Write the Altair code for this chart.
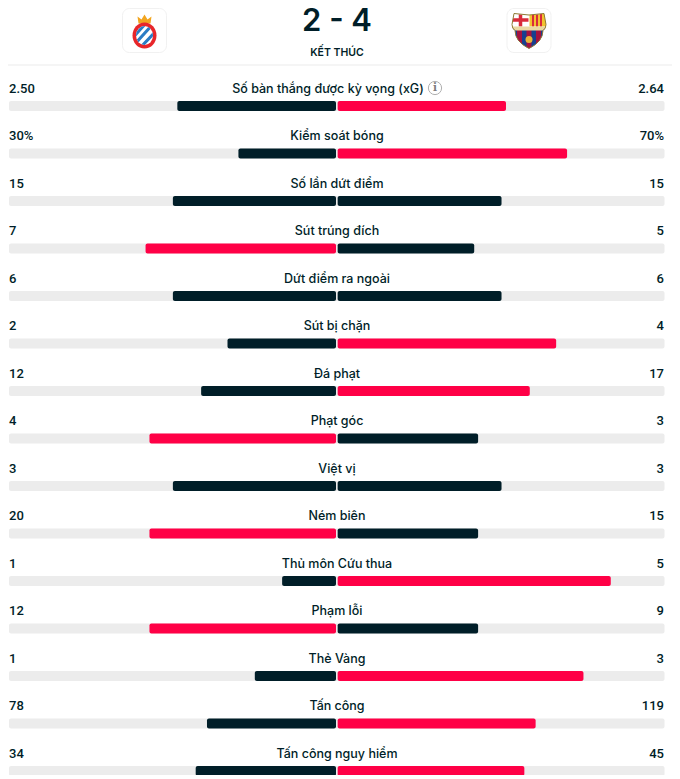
import altair as alt
import pandas as pd
from urllib.parse import quote

stats = ["Số bàn thắng được kỳ vọng (xG)", "Kiểm soát bóng", "Số lần dứt điểm", "Sút trúng đích",
         "Dứt điểm ra ngoài", "Sút bị chặn", "Đá phạt", "Phạt góc", "Việt vị", "Ném biên",
         "Thủ môn Cứu thua", "Phạm lỗi", "Thẻ Vàng", "Tấn công", "Tấn công nguy hiểm"]
home = [2.50, 30, 15, 7, 6, 2, 12, 4, 3, 20, 1, 12, 1, 78, 34]
away = [2.64, 70, 15, 5, 6, 4, 17, 3, 3, 15, 5, 9, 3, 119, 45]
home_labels = ["2.50", "30%", "15", "7", "6", "2", "12", "4", "3", "20", "1", "12", "1", "78", "34"]
away_labels = ["2.64", "70%", "15", "5", "6", "4", "17", "3", "3", "15", "5", "9", "3", "119", "45"]

NAVY, RED, TRACK = "#001e28", "#ff0046", "#ececec"
FONT = "Inter"

df = pd.DataFrame({"stat": stats, "home": home, "away": away, "hl": home_labels, "al": away_labels})
df["total"] = df.home + df.away
df["left"] = -df.home / df.total
df["right"] = df.away / df.total
df["lc"] = ["lead" if h > a else "other" for h, a in zip(home, away)]
df["rc"] = ["lead" if a > h else "other" for h, a in zip(home, away)]
df["lo"] = -1.0
df["hi"] = 1.0
df["zero"] = 0.0

xs = alt.Scale(domain=[-1, 1], range=[1, 656.5])
ys = alt.Scale(type="point", range=[98, 763], padding=0)
X = lambda f: alt.X(f"{f}:Q", scale=xs, axis=None)
Y = alt.Y("stat:N", sort=stats, scale=ys, axis=None)
col = lambda f: alt.Color(f"{f}:N", scale=alt.Scale(domain=["lead", "other"], range=[RED, NAVY]), legend=None)

base = alt.Chart(df)
track = base.mark_bar(size=10, cornerRadius=2, color=TRACK).encode(x=X("lo"), x2="hi:Q", y=Y)
left = base.mark_bar(size=10, cornerRadius=2, x2Offset=-0.75).encode(x=X("left"), x2="zero:Q", y=Y, color=col("lc"))
right = base.mark_bar(size=10, cornerRadius=2, xOffset=0.9, x2Offset=0.9).encode(x=X("zero"), x2="right:Q", y=Y, color=col("rc"))

txt = dict(font=FONT, fontSize=12.5, fontWeight=500, color=NAVY, dy=-17.5, baseline="middle")
num = dict(font="Roboto", fontSize=13, fontWeight=500, color=NAVY, dy=-17.5, baseline="middle")
names = base.transform_filter(alt.datum.stat != stats[0]).mark_text(**txt).encode(
    x=alt.value(329), y=Y, text="stat:N")
name0 = base.transform_filter(alt.datum.stat == stats[0]).mark_text(**txt).encode(
    x=alt.value(320), y=Y, text="stat:N")
vl = base.mark_text(align="left", **num).encode(x=alt.value(1), y=Y, text="hl:N")
vr = base.mark_text(align="right", **num).encode(x=alt.value(656), y=Y, text="al:N")

one = alt.Chart(pd.DataFrame({"score": ["2 - 4"], "status": ["KẾT THÚC"], "i": ["i"]}))
score = one.mark_text(font=FONT, fontSize=31, fontWeight=600, color=NAVY, baseline="middle").encode(
    x=alt.value(329), y=alt.value(14), text="score:N")
status = one.mark_text(font=FONT, fontSize=10.5, fontWeight=600, color=NAVY, baseline="middle").encode(
    x=alt.value(329), y=alt.value(44.5), text="status:N")
divider = one.mark_rule(color="#f2f2f2", strokeWidth=1.5).encode(
    x=alt.value(0), x2=alt.value(664), y=alt.value(57))
info = one.mark_point(shape="circle", size=175, filled=False, stroke="#8f8f8f", strokeWidth=1).encode(
    x=alt.value(427), y=alt.value(80))
info_i = one.mark_text(font="DejaVu Serif", fontSize=10.5, fontWeight=600, color="#7d7d7d", baseline="middle").encode(
    x=alt.value(427), y=alt.value(80), text="i:N")

box = lambda x0, x1: one.mark_rect(fill="white", stroke="#f1f1f1", strokeWidth=1, cornerRadius=7).encode(
    x=alt.value(x0), x2=alt.value(x1), y=alt.value(0.5), y2=alt.value(44.5))

esp = """<svg xmlns='http://www.w3.org/2000/svg' viewBox='0 0 44 44' width='44' height='44'>
<path d='M16 15 L15 8 L19 11 L22 6 L25 11 L29 8 L28 15 Z' fill='#f2a51f'/>
<ellipse cx='22' cy='27' rx='12' ry='13' fill='#e8262a'/>
<clipPath id='c'><ellipse cx='22' cy='27' rx='8.5' ry='9.5'/></clipPath>
<g clip-path='url(#c)'><rect x='10' y='14' width='24' height='26' fill='#ffffff'/>
<path d='M8 32 L24 14 M12 36 L30 16 M17 40 L36 20' stroke='#2a7bc4' stroke-width='3'/></g>
</svg>"""
fcb = """<svg xmlns='http://www.w3.org/2000/svg' viewBox='0 0 44 44' width='44' height='44'>
<clipPath id='s'><path d='M7 5 Q22 8 37 5 L39 16 Q39 20 36 22 Q36 33 22 40 Q8 33 8 22 Q5 20 5 16 Z'/></clipPath>
<g clip-path='url(#s)'>
<rect x='0' y='20' width='44' height='22' fill='#17408f'/>
<path d='M12.5 20 V40 M22 20 V42 M31.5 20 V40' stroke='#a5123f' stroke-width='5'/>
<rect x='0' y='0' width='21.5' height='18' fill='#ffffff'/>
<path d='M13.5 0 V18 M0 11.5 H21.5' stroke='#d92b3a' stroke-width='3.5'/>
<rect x='22.5' y='0' width='22' height='18' fill='#f3c32f'/>
<path d='M26 0 V18 M30 0 V18 M34 0 V18' stroke='#d92b3a' stroke-width='2'/>
<rect x='0' y='18' width='44' height='4' fill='#ead9a0'/>
</g>
<path d='M7 5 Q22 8 37 5 L39 16 Q39 20 36 22 Q36 33 22 40 Q8 33 8 22 Q5 20 5 16 Z' fill='none' stroke='#8f7a35' stroke-width='1'/>
<circle cx='22' cy='31' r='3.5' fill='#eab53a'/>
</svg>"""
uri = lambda s: "data:image/svg+xml," + quote(s)
logos = alt.Chart(pd.DataFrame({"u": [uri(esp)]})).mark_image(width=44, height=44).encode(
    x=alt.value(136.5), y=alt.value(22.5), url="u:N")
logos2 = alt.Chart(pd.DataFrame({"u": [uri(fcb)]})).mark_image(width=44, height=44).encode(
    x=alt.value(521), y=alt.value(22.5), url="u:N")

chart = alt.layer(
    divider, box(114.5, 158.5), box(499, 543), logos, logos2, score, status,
    track, left, right, names, name0, vl, vr, info, info_i
).resolve_scale(color="shared").properties(
    width=664, height=767, padding=0, background="white",
    autosize=alt.AutoSizeParams(type="none")
).configure_view(stroke=None)

chart.save("out.html", embed_options={"renderer": "svg", "actions": False})
